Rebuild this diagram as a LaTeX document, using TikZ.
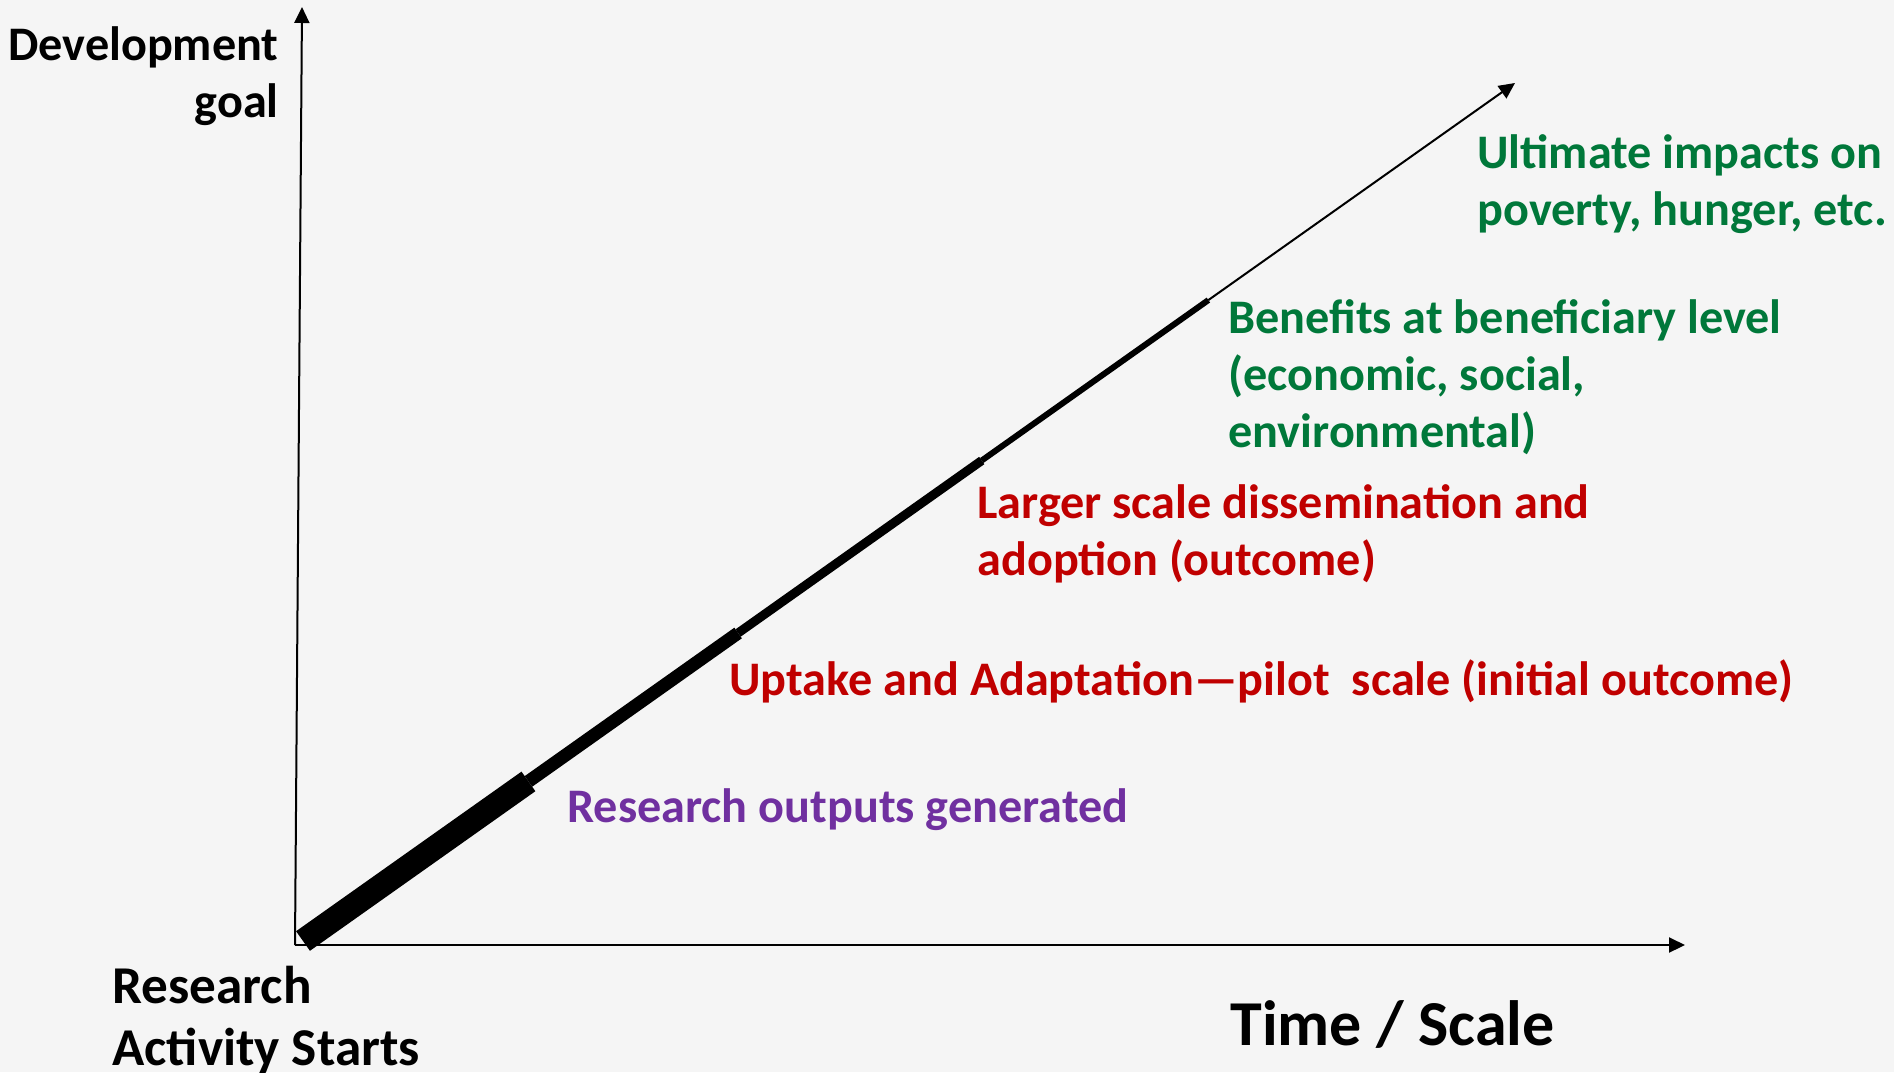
\documentclass[tikz,border=0pt]{standalone}
\usepackage{fontspec}
\setmainfont{Carlito}
\usepackage{xcolor}
\usetikzlibrary{calc}
\usetikzlibrary{arrows.meta}

\definecolor{goalgreen}{RGB}{0,120,58}
\definecolor{stepred}{RGB}{192,0,0}
\definecolor{outpurple}{RGB}{112,48,160}

\tikzset{
	lbl/.style={font=\fontsize{24.1}{28.5}\selectfont\bfseries, inner sep=0pt, align=left},
	axis/.style={line width=1pt, -{Triangle[length=8pt, width=7.5pt]}}
}

\begin{document}
\begin{tikzpicture}[x=0.5pt, y=-0.5pt]
	% page and background
	\fill[black!4] (0,0) rectangle (1894,1072);
	\useasboundingbox (0,0) rectangle (1894,1072);

	\coordinate (o) at (295,945);
	\coordinate (ytop) at (302,7);
	\coordinate (xend) at (1685,945);
	\coordinate (s0) at (303,941);
	\coordinate (tip) at (1515,83);
	\coordinate (p1) at ($(s0)!0.186!(tip)$);
	\coordinate (p2) at ($(s0)!0.359!(tip)$);
	\coordinate (p3) at ($(s0)!0.560!(tip)$);
	\coordinate (p4) at ($(s0)!0.747!(tip)$);

	% axes
	\draw[axis] (o) -- (ytop);
	\draw[axis] (o) -- (xend);

	% pathway, thinner at each stage
	\draw[line width=12pt] (s0) -- (p1);
	\draw[line width=6.5pt] (p1) -- (p2);
	\draw[line width=4.5pt] (p2) -- (p3);
	\draw[line width=3pt] (p3) -- (p4);
	\draw[axis] (p4) -- (tip);

	% labels (base = last line)
	\node[lbl, anchor=base east, align=right] (goal) at (279,117) {Development\\goal};
	\node[lbl, anchor=base west, font=\fontsize{26.6}{31}\selectfont\bfseries] (start) at (112,1065) {Research\\Activity Starts};
	\node[lbl, anchor=base west, font=\fontsize{32}{39}\selectfont\bfseries] (scale) at (1230,1045) {Time / Scale};

	\node[lbl, anchor=base west, text=goalgreen] (impact) at (1477,225) {Ultimate impacts on\\poverty, hunger, etc.};
	\node[lbl, anchor=base west, text=goalgreen] (benefit) at (1228,447) {Benefits at beneficiary level\\(economic, social,\\environmental)};
	\node[lbl, anchor=base west, text=stepred] (adopt) at (977,575) {Larger scale dissemination and\\adoption (outcome)};
	\node[lbl, anchor=base west, text=stepred] (uptake) at (729,695) {Uptake and Adaptation---pilot\ \ scale (initial outcome)};
	\node[lbl, anchor=base west, text=outpurple] (output) at (567,822) {Research outputs generated};
\end{tikzpicture}
\end{document}
